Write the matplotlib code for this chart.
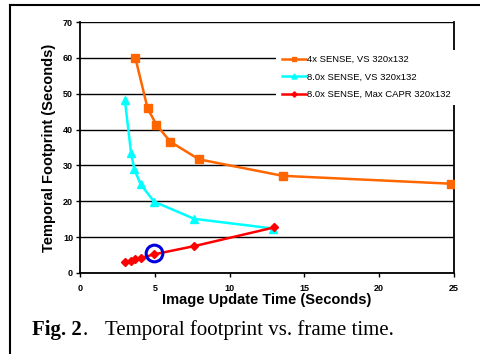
import matplotlib
matplotlib.use("Agg")
import matplotlib.pyplot as plt
from matplotlib.lines import Line2D

# Data
vs4_x = [3.7, 4.52, 5.1, 6.04, 7.95, 13.55, 24.82]
vs4_y = [60.0, 45.9, 41.4, 36.6, 31.7, 27.1, 24.9]

vs8_x = [3.0, 3.41, 3.63, 4.06, 4.95, 7.64, 12.92]
vs8_y = [48.2, 33.6, 28.9, 24.7, 19.9, 15.1, 12.4]

capr_x = [2.99, 3.39, 3.65, 4.10, 4.95, 7.64, 12.97]
capr_y = [3.0, 3.4, 4.0, 4.2, 5.2, 7.5, 12.7]

highlight = (4.97, 5.5)

labels = ["4x SENSE, VS 320x132", "8.0x SENSE, VS 320x132", "8.0x SENSE, Max CAPR 320x132"]

plt.rcParams['font.family'] = ['Liberation Sans', 'DejaVu Sans']

fig = plt.figure(figsize=(4.8, 3.54), dpi=100)
ax = fig.add_axes([80 / 480, 1 - 273 / 354, 374 / 480, 251 / 354])

ax.plot(vs4_x, vs4_y, color='#FF6600', lw=1.8, marker='s', ms=6, label=labels[0], zorder=3)
ax.plot(vs8_x, vs8_y, color='#00FFFF', lw=1.8, marker='^', ms=6, label=labels[1], zorder=4)
ax.plot(capr_x, capr_y, color='#FF0000', lw=1.8, marker='D', ms=4.5, label=labels[2], zorder=5)
ax.plot([highlight[0]], [highlight[1]], marker='o', ms=12, mfc='none', mec='#0000DD',
        mew=2.2, ls='none', zorder=6)

ax.set_xlim(0, 25)
ax.set_ylim(0, 70)
ax.set_xticks(range(0, 26, 5))
ax.set_yticks(range(0, 71, 10))
ax.yaxis.grid(True, color='black', lw=1)
ax.set_axisbelow(True)
ax.spines['top'].set_visible(False)
for s in ['left', 'bottom', 'right']:
    ax.spines[s].set_linewidth(1.3)
ax.tick_params(axis='both', direction='out', length=3, width=1, labelsize=6.5)
ax.tick_params(axis='x', pad=5)
ax.tick_params(axis='y', pad=2)
for lbl in ax.get_xticklabels() + ax.get_yticklabels():
    lbl.set_fontweight('bold')

ax.set_xlabel('Image Update Time (Seconds)', fontsize=10.5, fontweight='bold', labelpad=0)
ax.set_ylabel('Temporal Footprint (Seconds)', fontsize=10.5, fontweight='bold', labelpad=5)

leg = ax.legend(loc='upper left', bbox_to_anchor=(0.525, 0.89), fontsize=6.8, frameon=True,
                framealpha=1, facecolor='white', edgecolor='none', fancybox=False,
                handlelength=2.5, handletextpad=0.1, borderpad=0.6, labelspacing=0.9,
                markerscale=0.6, borderaxespad=0)
leg.set_zorder(10)

# outer frame of the figure panel
fig.add_artist(Line2D([10 / 480, 10 / 480], [0, 1 - 5 / 354], color='black', lw=1.5))
fig.add_artist(Line2D([10 / 480, 1], [1 - 5 / 354, 1 - 5 / 354], color='black', lw=1.5))

# caption
fig.text(32 / 480, 1 - 335 / 354, 'Fig. 2', fontsize=15, fontweight='bold',
         family='Liberation Serif', va='baseline')
fig.text(83 / 480, 1 - 335 / 354, '.', fontsize=15,
         family='Liberation Serif', va='baseline')
fig.text(105 / 480, 1 - 335 / 354, 'Temporal footprint vs. frame time.', fontsize=15,
         family='Liberation Serif', va='baseline')

fig.savefig('out.png', dpi=100)
